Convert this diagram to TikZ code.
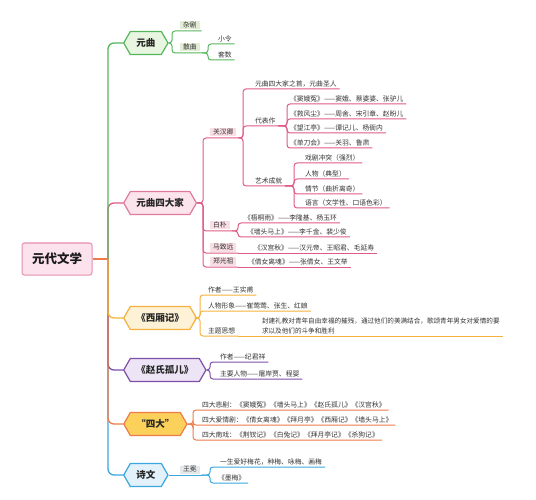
\documentclass[tikz,border=0pt]{standalone}
\usepackage{fontspec}
\setmainfont{Noto Sans CJK SC}
\usetikzlibrary{shapes.symbols}
\definecolor{gLine}{HTML}{56B65C}
\definecolor{gFill}{HTML}{E8F5E1}
\definecolor{gLab}{HTML}{E3EDD5}
\definecolor{pLine}{HTML}{DF5B86}
\definecolor{pFill}{HTML}{FCE4EC}
\definecolor{pBord}{HTML}{E07A9C}
\definecolor{pLab}{HTML}{F9DEE5}
\definecolor{oLine}{HTML}{F4B13E}
\definecolor{oFill}{HTML}{FDF1D6}
\definecolor{vLine}{HTML}{7E4FA8}
\definecolor{vFill}{HTML}{EDE4F5}
\definecolor{rLine}{HTML}{EE7B4A}
\definecolor{rFill}{HTML}{FCD15B}
\definecolor{bLine}{HTML}{3AA6DD}
\definecolor{bFill}{HTML}{E2F1FA}
\definecolor{bLab}{HTML}{E5E8EB}
\definecolor{rootF}{HTML}{FBE2EC}
\definecolor{rootB}{HTML}{E58FAF}
\definecolor{txt}{HTML}{333333}
\newcommand\leaffont{\fontsize{6.8}{8}\selectfont}
\newcommand\linkto[4]{\draw[#1] (#2) -- (#2 -| #3) |- (#4);}
\begin{document}
\begin{tikzpicture}[x=1pt,y=-1pt,
  mainnode/.style={signal, signal to=east and west, signal pointer angle=120,
    line width=1.2pt, minimum height=23pt, inner xsep=6pt, inner ysep=0pt,
    font=\fontsize{9.5}{11}\selectfont\bfseries, text=black!85, anchor=west},
  leaf/.style={anchor=south west, inner xsep=0pt, inner ysep=2pt, outer xsep=3pt,
    outer ysep=0pt, font=\leaffont, text=txt},
  lab/.style={anchor=south west, inner xsep=3pt, inner ysep=1pt, outer xsep=2pt,
    outer ysep=1.5pt, font=\leaffont, text=txt},
  spine/.style={line width=1.3pt, rounded corners=6pt},
  sub/.style={line width=1pt, rounded corners=3pt}]
\useasboundingbox (0,0) rectangle (536,500);

% root
\node[draw=rootB, fill=rootF, line width=1pt, rounded corners=2.5pt, minimum width=70pt,
  minimum height=32pt, font=\fontsize{12.5}{14}\selectfont\bfseries, text=black!90] (root) at (57,259) {元代文学};

% main nodes
\node[mainnode, draw=gLine, fill=gFill] (yq) at (123,43) {元曲};
\node[mainnode, draw=pBord, fill=pFill] (sdj) at (123,203) {元曲四大家};
\node[mainnode, draw=oLine, fill=oFill] (xx) at (123,318) {《西厢记》};
\node[mainnode, draw=vLine, fill=vFill] (zs) at (123,370) {《赵氏孤儿》};
\node[mainnode, draw=rLine, fill=rFill] (sd) at (123,424) {“四大”};
\node[mainnode, draw=bLine, fill=bFill] (sw) at (123,475) {诗文};

% spine
\coordinate (sp) at (108,0);
\coordinate (hub) at (root.east -| sp);
\draw[spine, bLine] (hub) |- (sw.west);
\draw[spine, vLine] (hub) |- (zs.west);
\draw[spine, rLine] (hub) |- (sd.west);
\draw[spine, oLine] (hub) |- (xx.west);
\draw[spine, pLine] (hub) |- (sdj.west);
\draw[spine, gLine] (hub) |- (yq.west);
\draw[spine, rLine] (root.east) -- (hub);

% ---- 元曲
\coordinate (b0) at (172,0);
\coordinate (b0a) at (208,0);
\node[lab, fill=gLab] (zj) at (178,31) {杂剧};
\node[lab, fill=gLab] (sq) at (178,53) {散曲};
\node[leaf] (xl) at (215,44) {小令};
\node[leaf] (tsh) at (215,60) {套数};
\linkto{sub, gLine}{yq.east}{b0}{zj.south east}
\linkto{sub, gLine}{yq.east}{b0}{sq.south east}
\linkto{sub, gLine}{sq.south east}{b0a}{xl.south east}
\linkto{sub, gLine}{sq.south east}{b0a}{tsh.south east}

% ---- 元曲四大家
\coordinate (b1) at (203,0);
\coordinate (b2) at (243,0);
\coordinate (b3) at (287,0);
\coordinate (b4) at (294,0);
\coordinate (b5) at (238,0);
\node[lab, fill=pLab] (gh) at (208,138) {关汉卿};
\node[lab, fill=pLab] (bp) at (208,231) {白朴};
\node[lab, fill=pLab] (mz) at (208,253) {马致远};
\node[lab, fill=pLab] (zg) at (208,267) {郑光祖};
\linkto{sub, pLine}{sdj.east}{b1}{gh.south east}
\linkto{sub, pLine}{sdj.east}{b1}{bp.south east}
\linkto{sub, pLine}{sdj.east}{b1}{mz.south east}
\linkto{sub, pLine}{sdj.east}{b1}{zg.south east}

\node[leaf] (sz) at (252,89) {元曲四大家之首，元曲圣人};
\node[leaf] (dbz) at (252,126) {代表作};
\node[leaf] (ys) at (252,186) {艺术成就};
\linkto{sub, pLine}{gh.south east}{b2}{sz.south east}
\linkto{sub, pLine}{gh.south east}{b2}{dbz.south east}
\linkto{sub, pLine}{gh.south east}{b2}{ys.south east}

\node[leaf] (de) at (287,104) {《窦娥冤》——窦娥、蔡婆婆、张驴儿};
\node[leaf] (jf) at (287,119) {《救风尘》——周舍、宋引章、赵盼儿};
\node[leaf] (wj) at (287,133) {《望江亭》——谭记儿、杨衙内};
\node[leaf] (dd) at (287,148) {《单刀会》——关羽、鲁肃};
\linkto{sub, pLine}{dbz.south east}{b3}{de.south east}
\linkto{sub, pLine}{dbz.south east}{b3}{jf.south east}
\linkto{sub, pLine}{dbz.south east}{b3}{wj.south east}
\linkto{sub, pLine}{dbz.south east}{b3}{dd.south east}

\node[leaf] (xj) at (302,163) {戏剧冲突（强烈）};
\node[leaf] (rw) at (302,179) {人物（典型）};
\node[leaf] (qj) at (302,194) {情节（曲折离奇）};
\node[leaf] (yy) at (302,208) {语言（文学性、口语色彩）};
\linkto{sub, pLine}{ys.south east}{b4}{xj.south east}
\linkto{sub, pLine}{ys.south east}{b4}{rw.south east}
\linkto{sub, pLine}{ys.south east}{b4}{qj.south east}
\linkto{sub, pLine}{ys.south east}{b4}{yy.south east}

\node[leaf] (wt) at (241,223) {《梧桐雨》——李隆基、杨玉环};
\node[leaf] (qt) at (244,237) {《墙头马上》——李千金、裴少俊};
\linkto{sub, pLine}{bp.south east}{b5}{wt.south east}
\linkto{sub, pLine}{bp.south east}{b5}{qt.south east}
\node[leaf] (hg) at (251,253) {《汉宫秋》——汉元帝、王昭君、毛延寿};
\draw[sub, pLine] (mz.south east) -- (hg.south east);
\node[leaf] (qn) at (245,267) {《倩女离魂》——张倩女、王文举};
\draw[sub, pLine] (zg.south east) -- (qn.south east);

% ---- 西厢记
\coordinate (b6) at (200,0);
\node[leaf] (zz) at (205,295) {作者——王实甫};
\node[leaf] (rx) at (205,311) {人物形象——崔莺莺、张生、红娘};
\node[leaf] (zt) at (205,336) {主题思想};
\node[leaf, align=left, font=\fontsize{6.6}{10}\selectfont] (fj) at (259,336)
  {封建礼教对青年自由幸福的摧残，通过他们的美满结合，歌颂青年男女对爱情的要\\求以及他们的斗争和胜利};
\linkto{sub, oLine}{xx.east}{b6}{zz.south east}
\linkto{sub, oLine}{xx.east}{b6}{rx.south east}
\linkto{sub, oLine}{xx.east}{b6}{zt.south east}
\draw[sub, oLine] (zt.south east) -- (fj.south east);

% ---- 赵氏孤儿
\coordinate (b7) at (210,0);
\node[leaf] (zz2) at (217,362) {作者——纪君祥};
\node[leaf] (zy) at (217,379) {主要人物——屠岸贾、程婴};
\linkto{sub, vLine}{zs.east}{b7}{zz2.south east}
\linkto{sub, vLine}{zs.east}{b7}{zy.south east}

% ---- 四大
\coordinate (b8) at (193,0);
\node[leaf] (bj) at (199,410) {四大悲剧：《窦娥冤》《墙头马上》《赵氏孤儿》《汉宫秋》};
\node[leaf] (aq) at (199,425) {四大爱情剧：《倩女离魂》《拜月亭》《西厢记》《墙头马上》};
\node[leaf] (nx) at (199,440) {四大南戏：《荆钗记》《白兔记》《拜月亭记》《杀狗记》};
\linkto{sub, rLine}{sd.east}{b8}{bj.south east}
\linkto{sub, rLine}{sd.east}{b8}{aq.south east}
\linkto{sub, rLine}{sd.east}{b8}{nx.south east}

% ---- 诗文
\coordinate (b9) at (210,0);
\node[lab, fill=bLab] (wm) at (178,475) {王冕};
\draw[sub, bLine] (sw.east) -- (wm.south east);
\node[leaf] (ys2) at (217,467) {一生爱好梅花，种梅、咏梅、画梅};
\node[leaf] (mm) at (215,483) {《墨梅》};
\linkto{sub, bLine}{wm.south east}{b9}{ys2.south east}
\linkto{sub, bLine}{wm.south east}{b9}{mm.south east}
\end{tikzpicture}
\end{document}
